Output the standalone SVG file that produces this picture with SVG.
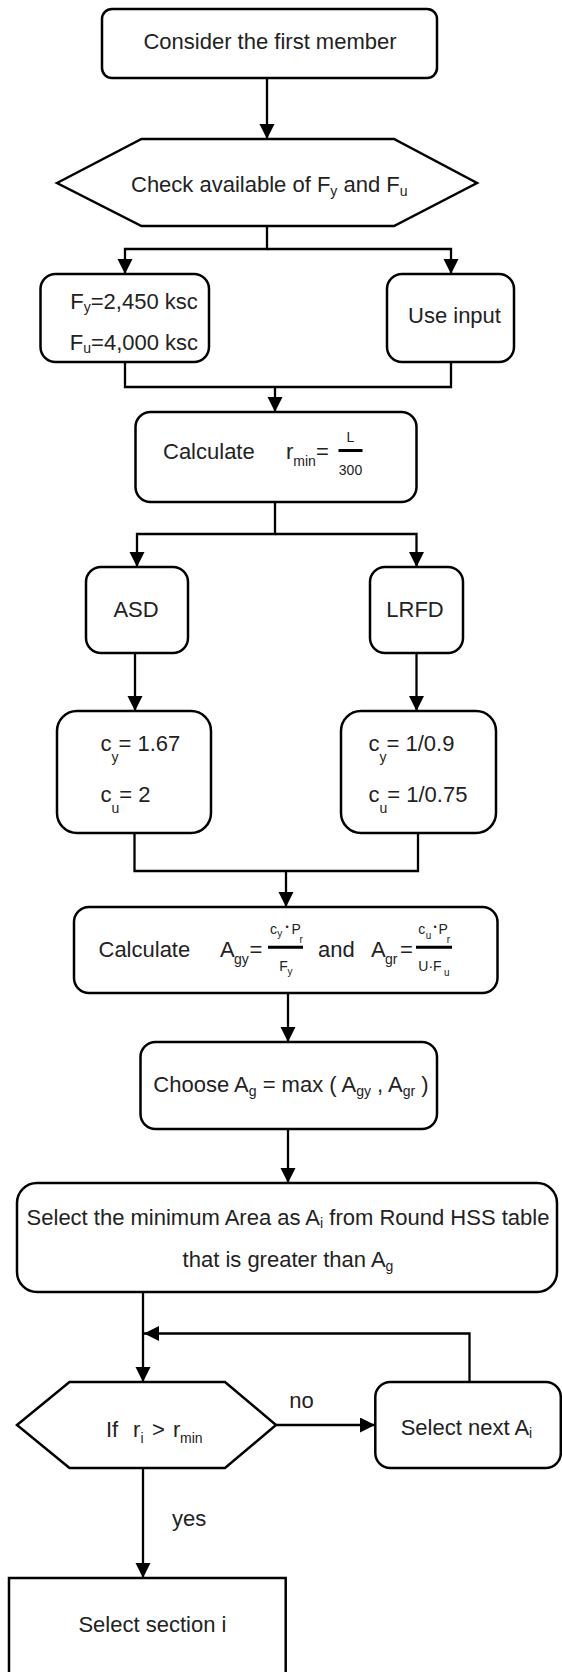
<svg xmlns="http://www.w3.org/2000/svg" width="562" height="1672" viewBox="0 0 562 1672">
  <defs>
    <style>
      .box { fill: #fff; stroke: #000; stroke-width: 2.5; }
      .t { font-family: "Liberation Sans", Arial, sans-serif; font-size: 22px; fill: #222; }
      .m { text-anchor: middle; }
      .sub { font-size: 14px; }
      .sm { font-size: 14px; }
      .xs { font-size: 10px; }
      .dot { font-size: 9px; }
      .conn { fill: none; stroke: #000; stroke-width: 2.3; }
      .bar { stroke: #000; stroke-width: 3; }
    </style>
    <marker id="arrow" markerUnits="userSpaceOnUse" markerWidth="16" markerHeight="16" refX="15" refY="7.5" orient="auto">
      <path d="M0,0 L15,7.5 L0,15 z" fill="#000"/>
    </marker>
  </defs>

  <rect width="562" height="1672" fill="#fff"/>

  <!-- connectors -->
  <g id="connectors" class="conn" marker-end="url(#arrow)">
    <path d="M267,78 V139"/>
    <path d="M267,226 V249 H125 V274"/>
    <path d="M267,249 H451 V274"/>
    <path d="M125,362 V387 H451 V362" marker-end="none"/>
    <path d="M275,387 V412"/>
    <path d="M275,502 V534 H137 V567"/>
    <path d="M275,534 H416.5 V567"/>
    <path d="M135,653 V711"/>
    <path d="M416.5,653 V711"/>
    <path d="M134.5,833 V871 H418 V833" marker-end="none"/>
    <path d="M286,871 V907"/>
    <path d="M288,993 V1042"/>
    <path d="M288,1129 V1183"/>
    <path d="M143,1292 V1382"/>
    <path d="M469.5,1382 V1333.5 H144"/>
    <path d="M276,1425 H375"/>
    <path d="M143,1468 V1578"/>
  </g>
  <g id="edge-labels">
    <text class="t m" x="301.5" y="1408">no</text>
    <text class="t" x="172" y="1526">yes</text>
  </g>

  <!-- nodes -->
  <g id="start">
    <rect class="box" x="102" y="9" width="335" height="69" rx="10"/>
    <text class="t m" x="270" y="49">Consider the first member</text>
  </g>

  <g id="check-fy-fu">
    <polygon class="box" points="57,183 141.5,139 394,139 477,183 394,226 141.5,226"/>
    <text class="t" x="131" y="192">Check available of F<tspan class="sub" dy="3.5">y</tspan><tspan dy="-3.5"> and F</tspan><tspan class="sub" dy="3.5">u</tspan></text>
  </g>

  <g id="default-values">
    <rect class="box" x="40.5" y="274" width="168.5" height="88" rx="15"/>
    <text class="t m" x="134" y="309">F<tspan class="sub" dy="3">y</tspan><tspan dy="-3">=2,450 ksc</tspan></text>
    <text class="t m" x="134" y="350">F<tspan class="sub" dy="3">u</tspan><tspan dy="-3">=4,000 ksc</tspan></text>
  </g>

  <g id="use-input">
    <rect class="box" x="387" y="274" width="127" height="88" rx="15"/>
    <text class="t m" x="454.5" y="323">Use input</text>
  </g>

  <g id="calc-rmin">
    <rect class="box" x="135.5" y="412" width="281" height="90" rx="15"/>
    <text class="t" x="163" y="459">Calculate</text>
    <text class="t" x="286" y="459">r<tspan class="sub" dy="7">min</tspan><tspan dy="-7">=</tspan></text>
    <line class="bar" x1="338.5" y1="450.5" x2="362.5" y2="450.5"/>
    <text class="t sm m" x="350.5" y="441.5">L</text>
    <text class="t sm m" x="350.5" y="475">300</text>
  </g>

  <g id="asd">
    <rect class="box" x="86" y="567" width="102" height="86" rx="15"/>
    <text class="t m" x="136" y="617">ASD</text>
  </g>

  <g id="lrfd">
    <rect class="box" x="370" y="567" width="93" height="86" rx="15"/>
    <text class="t m" x="415" y="617">LRFD</text>
  </g>

  <g id="asd-factors">
    <rect class="box" x="57" y="711" width="154" height="122" rx="20"/>
    <text class="t" x="100.5" y="751">c<tspan class="sub" dy="11">y</tspan><tspan dy="-11">= 1.67</tspan></text>
    <text class="t" x="100.5" y="802">c<tspan class="sub" dy="11">u</tspan><tspan dy="-11">= 2</tspan></text>
  </g>

  <g id="lrfd-factors">
    <rect class="box" x="341" y="711" width="155" height="122" rx="20"/>
    <text class="t" x="368.5" y="751">c<tspan class="sub" dy="11">y</tspan><tspan dy="-11">= 1/0.9</tspan></text>
    <text class="t" x="368.5" y="802">c<tspan class="sub" dy="11">u</tspan><tspan dy="-11">= 1/0.75</tspan></text>
  </g>

  <g id="calc-area">
    <rect class="box" x="74" y="907" width="423.5" height="86" rx="15"/>
    <text class="t" x="98.5" y="957">Calculate</text>
    <!-- A_gy = c_y·P_r / F_y -->
    <text class="t" x="220" y="957">A</text>
    <text class="t sub" x="234" y="964">gy</text>
    <text class="t" x="249.5" y="957">=</text>
    <line class="bar" x1="268" y1="947.3" x2="303" y2="947.3"/>
    <text class="t sm" x="270" y="933.5">c</text>
    <text class="t xs" x="277.3" y="937">y</text>
    <text class="t dot" x="285.5" y="930">•</text>
    <text class="t sm" x="291.5" y="933.5">P</text>
    <text class="t xs" x="299.5" y="943">r</text>
    <text class="t sm" x="279.3" y="970.5">F</text>
    <text class="t xs" x="287.5" y="975">y</text>
    <text class="t" x="318" y="957">and</text>
    <!-- A_gr = c_u·P_r / (U·F_u) -->
    <text class="t" x="371" y="957">A</text>
    <text class="t sub" x="385" y="964">gr</text>
    <text class="t" x="400" y="957">=</text>
    <line class="bar" x1="416" y1="947.3" x2="452" y2="947.3"/>
    <text class="t sm" x="418.3" y="933.5">c</text>
    <text class="t xs" x="425.8" y="938.5">u</text>
    <text class="t dot" x="433.5" y="930">•</text>
    <text class="t sm" x="438.5" y="933.5">P</text>
    <text class="t xs" x="446.7" y="943">r</text>
    <text class="t sm" x="418.3" y="971">U·F</text>
    <text class="t xs" x="444" y="976">u</text>
  </g>

  <g id="choose-ag">
    <rect class="box" x="140.5" y="1042" width="296.5" height="87" rx="15"/>
    <text class="t m" x="291" y="1092">Choose A<tspan class="sub" dy="4">g</tspan><tspan dy="-4"> = max ( A</tspan><tspan class="sub" dy="4">gy</tspan><tspan dy="-4"> , A</tspan><tspan class="sub" dy="4">gr</tspan><tspan dy="-4"> )</tspan></text>
  </g>

  <g id="select-ai">
    <rect class="box" x="17" y="1183" width="540" height="109" rx="20"/>
    <text class="t m" x="288" y="1225">Select the minimum Area as A<tspan class="sub" dy="2.5">i</tspan><tspan dy="-2.5"> from Round HSS table</tspan></text>
    <text class="t m" x="288" y="1267">that is greater than A<tspan class="sub" dy="3.5">g</tspan></text>
  </g>

  <g id="check-r">
    <polygon class="box" points="17,1425 69.5,1382 225,1382 276,1425 225,1468 69.5,1468"/>
    <text class="t" y="1437"><tspan x="106">If</tspan><tspan x="133">r</tspan><tspan class="sub" x="140.5" dy="6">i</tspan><tspan x="152" dy="-6">&gt;</tspan><tspan x="173">r</tspan><tspan class="sub" x="180" dy="6">min</tspan></text>
  </g>

  <g id="select-next">
    <rect class="box" x="375.3" y="1382" width="185.5" height="86" rx="15"/>
    <text class="t" x="400.7" y="1435">Select next A<tspan class="sub" dy="3">i</tspan></text>
  </g>

  <g id="select-section">
    <rect class="box" x="9" y="1578" width="276.7" height="120" rx="0"/>
    <text class="t m" x="152.4" y="1632">Select section i</text>
  </g>
</svg>
